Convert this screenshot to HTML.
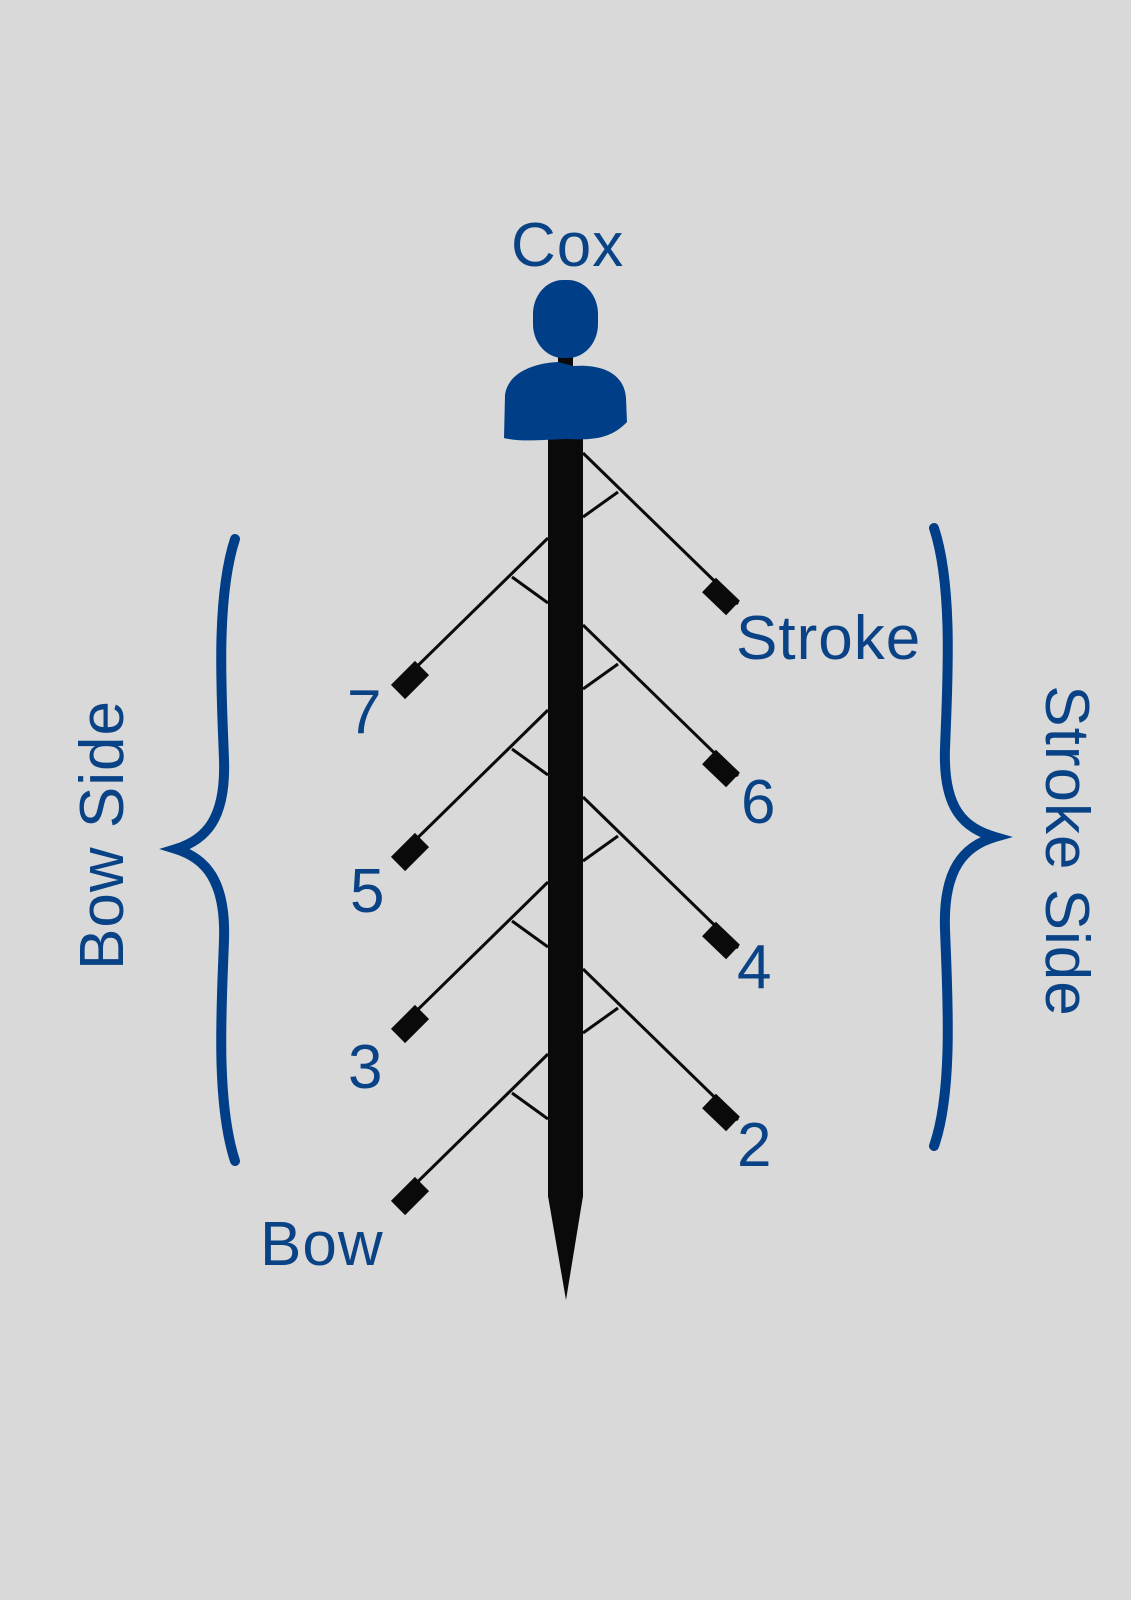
<!DOCTYPE html>
<html><head><meta charset="utf-8"><style>
html,body{margin:0;padding:0;background:#d9d9d9;}
svg{display:block}
text{font-family:"Liberation Sans",sans-serif;fill:#0a4286;letter-spacing:1px;}
</style></head><body>
<svg width="1131" height="1600" viewBox="0 0 1131 1600" xmlns="http://www.w3.org/2000/svg">
<rect width="1131" height="1600" fill="#d9d9d9"/>
<g stroke="#0a0a0a" stroke-width="3" fill="none">
  <g id="r">
    <line x1="583" y1="453" x2="738" y2="604"/>
    <line x1="583" y1="517" x2="618" y2="492"/>
    <line x1="709" y1="585" x2="733" y2="608" stroke-width="20"/>
  </g>
  <use href="#r" y="172"/>
  <use href="#r" y="344"/>
  <use href="#r" y="516"/>
  <g id="l">
    <line x1="548" y1="538" x2="395" y2="688"/>
    <line x1="548" y1="603" x2="512" y2="577"/>
    <line x1="422" y1="668" x2="398" y2="692" stroke-width="20"/>
  </g>
  <use href="#l" y="172"/>
  <use href="#l" y="344"/>
  <use href="#l" y="516"/>
</g>
<rect x="548" y="430" width="35" height="767" fill="#0a0a0a"/>
<polygon points="548,1196 583,1196 566,1300" fill="#0a0a0a"/>
<rect x="558" y="352" width="15" height="18" fill="#0a0a0a"/>
<rect x="533" y="280" width="65" height="78" rx="30" ry="34" fill="#003f87"/>
<path d="M504,438 L505,395 C508,372 535,363 558,362 L573,366 C600,364 624,372 626,398 L627,422 C610,440 590,440 566,439 C540,440 520,442 504,438 Z" fill="#003f87"/>
<g stroke="#003f87" stroke-width="10" fill="none" stroke-linecap="round">
  <path d="M235,539 C215,600 222,700 224,760 C226,820 205,840 176,849 C205,858 226,880 224,940 C222,1000 215,1100 235,1161"/>
  <path d="M934,528 C954,589 947,689 945,749 C943,809 964,828 995,837 C964,846 943,869 945,929 C947,989 954,1089 934,1146"/>
</g>
<g font-size="62">
<text x="511" y="266">Cox</text>
<text x="736" y="659">Stroke</text>
<text x="347" y="733">7</text>
<text x="741" y="823">6</text>
<text x="350" y="912">5</text>
<text x="737" y="988">4</text>
<text x="348" y="1088">3</text>
<text x="737" y="1166">2</text>
<text x="260" y="1265">Bow</text>
<text transform="translate(123,835) rotate(-90)" text-anchor="middle">Bow Side</text>
<text transform="translate(1046,851) rotate(90)" text-anchor="middle">Stroke Side</text>
</g>
</svg>
</body></html>
